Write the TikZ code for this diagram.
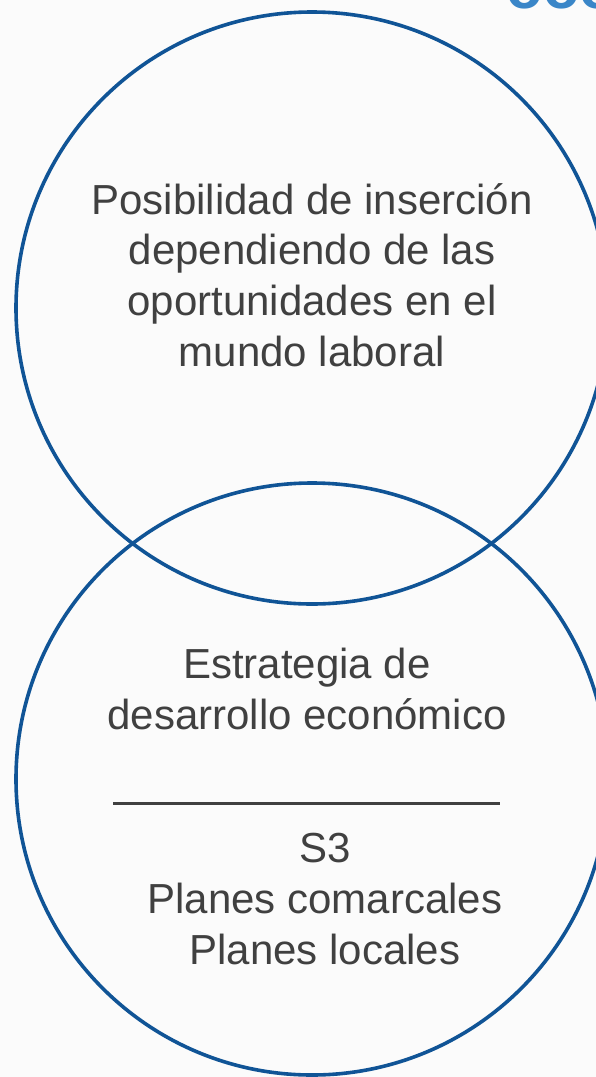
\documentclass[tikz,border=0pt]{standalone}
\usepackage{fontspec}
\setmainfont{Liberation Sans}
\usepackage{tikz}
\usetikzlibrary{positioning}

\definecolor{ringblue}{RGB}{16,84,150}
\definecolor{titleblue}{RGB}{58,134,200}
\definecolor{textgrey}{RGB}{64,64,64}
\definecolor{paper}{RGB}{251,251,251}

\begin{document}
\begin{tikzpicture}[x=1pt,y=-1pt,thick]
    \tikzstyle{ring}=[circle, draw=ringblue, line width=3.6pt, minimum size=592pt, inner sep=0pt]
    \tikzstyle{label}=[text=textgrey, align=center, inner sep=0pt,
      font=\fontsize{42}{50.8}\selectfont]

    % page with its margins
    \path[use as bounding box, fill=paper] (0,0) rectangle (596,1077);

    % cut-off heading
    \node[anchor=base west, text=titleblue, inner sep=0pt,
      font=\fontsize{60}{60}\selectfont\bfseries] (head) at (506,8) {ooo};

    % the two rings
    \node[ring] (upper) at (312,308) {};
    \node[ring] (lower) at (312,779) {};

    % texts
    \node[label] (chance) at (312,275) {Posibilidad de inserción\\dependiendo de las\\oportunidades en el\\mundo laboral};
    \node[label] (strategy) at (307,689) {Estrategia de\\desarrollo económico};
    \node[label] (plans) at (325,899) {S3\\Planes comarcales\\Planes locales};

    % rule between the texts
    \coordinate (rulel) at (113,803);
    \coordinate (ruler) at (500,803);
    \draw[textgrey, line width=3pt] (rulel) -- (ruler);
\end{tikzpicture}
\end{document}
